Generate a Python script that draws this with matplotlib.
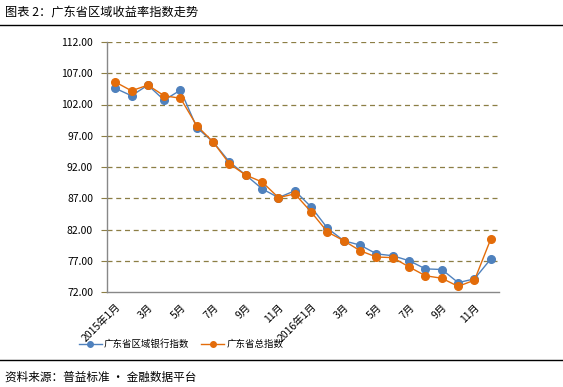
import numpy as np
import matplotlib
matplotlib.use('Agg')
import matplotlib.pyplot as plt
from matplotlib.lines import Line2D

plt.rcParams['font.family'] = ['Noto Sans CJK SC', 'DejaVu Sans']

# ── Data ──────────────────────────────────────────────────────────────────────
months = [f'{y}-{m:02d}' for y in (2015, 2016) for m in range(1, 13)]
tick_labels = ['2015年1月', '3月', '5月', '7月', '9月', '11月',
               '2016年1月', '3月', '5月', '7月', '9月', '11月']

regional_bank = [104.6, 103.4, 105.1, 102.7, 104.3, 98.3, 96.0, 92.8, 90.7, 88.5,
                 87.1, 88.2, 85.6, 82.2, 80.2, 79.5, 78.1, 77.8, 77.0, 75.7,
                 75.6, 73.5, 74.1, 77.3]
total_index = [105.6, 104.2, 105.1, 103.4, 103.0, 98.6, 96.0, 92.5, 90.7, 89.6,
               87.1, 87.7, 84.8, 81.6, 80.2, 78.6, 77.6, 77.5, 76.0, 74.6,
               74.2, 72.9, 73.9, 80.5]

yticks = np.arange(72, 113, 5)

blue = '#4F81BD'
orange = '#E36C0A'
grid_c = '#8C7E45'

# ── Figure ────────────────────────────────────────────────────────────────────
fig = plt.figure(figsize=(5.63, 3.87), dpi=100)
ax = fig.add_axes([107 / 563, 1 - 292 / 387, 392 / 563, 250 / 387])

x = np.arange(len(months))
ax.plot(x, regional_bank, color=blue, lw=1.0, marker='o', ms=5.5,
        markeredgecolor=blue, zorder=3)
ax.plot(x, total_index, color=orange, lw=1.0, marker='o', ms=5.5,
        markeredgecolor=orange, zorder=4)

ax.set_xlim(-0.5, len(months) - 0.5)
ax.set_ylim(72, 112)
ax.set_yticks(yticks)
ax.set_yticklabels([f'{v:.2f}' for v in yticks], fontsize=7.5)
ax.set_xticks(x[::2])
ax.set_xticklabels(tick_labels, rotation=45, ha='right', va='top',
                   rotation_mode='anchor', fontsize=7.5)
ax.tick_params(axis='x', length=0, pad=7)
ax.tick_params(axis='y', length=4, color=grid_c, pad=6)

for v in yticks[1:]:
    ax.axhline(v, color=grid_c, lw=0.9, ls=(0, (4, 3)), zorder=1)

for s in ['top', 'right']:
    ax.spines[s].set_visible(False)
for s in ['left', 'bottom']:
    ax.spines[s].set_color('#888888')
    ax.spines[s].set_linewidth(1.0)

# legend
handles = [Line2D([], [], color=blue, lw=1.0, marker='o', ms=4),
           Line2D([], [], color=orange, lw=1.0, marker='o', ms=4)]
fig.legend(handles, ['广东省区域银行指数', '广东省总指数'],
           loc='center left', bbox_to_anchor=(70 / 563, 1 - 344 / 387),
           ncol=2, frameon=False, fontsize=6.8, handlelength=2.5,
           handletextpad=0.2, columnspacing=1.2)

# title, separators, footer
fig.text(5 / 563, 1 - 13 / 387, '图表 2：广东省区域收益率指数走势',
         fontsize=8.8, va='center', ha='left')
fig.add_artist(Line2D([0, 1], [1 - 25 / 387] * 2, color='black', lw=1.0))
fig.add_artist(Line2D([0, 1], [1 - 360 / 387] * 2, color='black', lw=1.0))
fig.text(5 / 563, 1 - 377 / 387, '资料来源：普益标准 · 金融数据平台',
         fontsize=8.4, va='center', ha='left')

plt.savefig('out.png', dpi=100)
plt.close()
